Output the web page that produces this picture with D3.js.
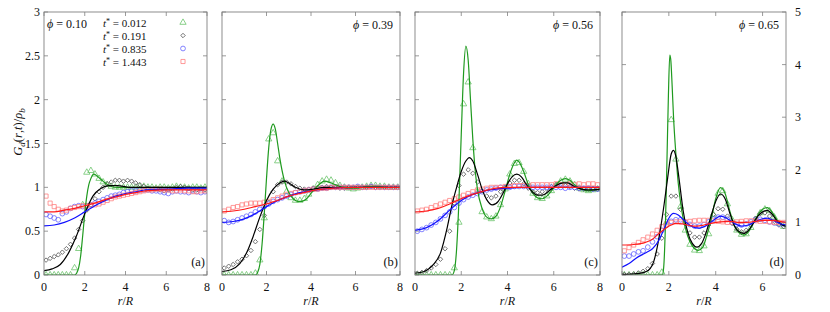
<!DOCTYPE html>
<html>
<head>
<meta charset="utf-8">
<script src="https://cdn.jsdelivr.net/npm/d3@7"></script>
<style>
  body { margin: 0; background: #fff; }
</style>
</head>
<body>
<svg id="chart" width="830" height="312"></svg>
<script>
// simulation sample radii (markers)
const rMarks = [0.1,0.3,0.5,0.7,0.9,1.1,1.3,1.5,1.7,1.9,2.1,2.3,2.5,2.7,2.9,3.1,3.3,3.5,3.7,3.9,
  4.1,4.3,4.5,4.7,4.9,5.1,5.3,5.5,5.7,5.9,6.1,6.3,6.5,6.7,6.9,7.1,7.3,7.5,7.7,7.9];
const rMarksD = [0.1,0.3,0.5,0.7,0.9,1.1,1.3,1.5,1.7,1.9,2.1,2.3,2.5,2.7,2.9,3.1,3.3,3.5,3.7,3.9,
  4.1,4.3,4.5,4.7,4.9,5.1,5.3,5.5,5.7,5.9,6.1,6.3,6.5,6.7,6.9];

const times = ["0.012", "0.191", "0.835", "1.443"];
const phis = ["0.10", "0.39", "0.56", "0.65"];
const tags = ["(a)", "(b)", "(c)", "(d)"];

// panel (a) phi = 0.10
const aTri = [0,0,0,0,0,0,0,0.08,0.3,0.8,1.17,1.19,1.15,1.1,1.06,1.03,1.01,1.0,1.0,1.0,1.0,1.0,1.0,1.01,1.01,1.0,1.0,0.99,1.0,1.0,0.99,1.0,1.01,1.0,1.0,0.99,1.0,1.0,0.99,1.0];
const aDia = [0.17,0.19,0.21,0.23,0.26,0.3,0.35,0.42,0.52,0.62,0.74,0.8,0.87,0.95,1.0,1.04,1.06,1.08,1.08,1.07,1.08,1.07,1.05,1.03,1.01,0.99,0.98,0.98,0.97,0.96,0.97,0.98,1.0,1.01,1.0,0.99,0.97,0.97,0.98,0.97];
const aCir = [0.69,0.67,0.65,0.63,0.7,0.72,0.76,0.78,0.79,0.78,0.79,0.8,0.82,0.84,0.86,0.88,0.9,0.91,0.92,0.94,0.95,0.96,0.96,0.97,0.97,0.97,0.96,0.96,0.95,0.94,0.93,0.95,0.96,0.95,0.95,0.94,0.96,0.95,0.94,0.95];
const aSqu = [0.9,0.82,0.78,0.75,0.73,0.74,0.76,0.77,0.78,0.79,0.79,0.8,0.8,0.81,0.83,0.85,0.87,0.89,0.9,0.91,0.92,0.93,0.94,0.95,0.96,0.97,0.97,0.98,0.98,0.97,0.97,0.96,0.96,0.97,0.96,0.96,0.95,0.95,0.96,0.96];
const aLineG = [[0,0],[1.5,0],[1.6,0.02],[1.7,0.08],[1.8,0.22],[1.9,0.45],[2.0,0.7],[2.1,0.9],[2.2,1.03],[2.3,1.1],[2.45,1.15],[2.6,1.13],[2.8,1.09],[3.0,1.05],[3.3,1.01],[3.6,1.0],[8,1.0]];
const aLineK = [[0,0.05],[0.4,0.07],[0.8,0.12],[1.2,0.25],[1.6,0.45],[2.0,0.7],[2.4,0.9],[2.8,0.99],[3.2,1.02],[3.6,1.02],[4.2,1.0],[8,1.0]];
const aLineB = [[0,0.56],[0.5,0.57],[1.0,0.6],[1.5,0.65],[2.0,0.72],[2.5,0.79],[3.0,0.85],[3.5,0.9],[4.0,0.93],[4.5,0.95],[5.0,0.97],[6,0.98],[7,0.99],[8,0.99]];
const aLineR = [[0,0.72],[0.5,0.72],[1.0,0.74],[1.5,0.76],[2.0,0.79],[2.5,0.82],[3.0,0.86],[3.5,0.89],[4.0,0.92],[4.5,0.94],[5,0.96],[6,0.97],[7,0.97],[8,0.97]];

// panel (b) phi = 0.39
const bTri = [0,0,0,0,0,0,0,0.02,0.17,0.65,1.55,1.62,1.3,1.07,0.95,0.88,0.85,0.85,0.87,0.92,0.98,1.03,1.07,1.09,1.08,1.05,1.02,1.0,0.99,0.98,0.99,1.0,1.01,1.02,1.02,1.01,1.01,1.0,1.0,1.0];
const bDia = [0.08,0.1,0.12,0.15,0.18,0.22,0.28,0.38,0.52,0.68,0.83,0.95,1.03,1.06,1.06,1.04,1.01,0.99,0.98,0.98,0.99,1.0,1.0,1.01,1.0,1.0,0.99,0.99,1.0,1.0,1.0,1.0,1.0,1.01,1.0,1.0,1.0,1.0,1.0,1.0];
const bCir = [0.62,0.6,0.61,0.63,0.65,0.67,0.69,0.72,0.75,0.78,0.81,0.84,0.86,0.88,0.9,0.92,0.94,0.95,0.96,0.97,0.98,0.98,0.99,0.99,1.0,1.0,1.0,1.0,1.0,1.0,1.01,1.0,1.0,1.01,1.0,1.0,1.0,1.0,1.0,1.0];
const bSqu = [0.73,0.75,0.77,0.78,0.8,0.81,0.82,0.82,0.82,0.83,0.84,0.86,0.88,0.9,0.92,0.93,0.94,0.95,0.96,0.97,0.98,0.98,0.99,0.99,1.0,1.0,1.0,1.0,1.0,1.0,1.0,1.0,1.0,1.0,1.0,1.0,1.0,1.0,1.0,1.0];
const bLineG = [[0,0],[1.5,0],[1.6,0.03],[1.7,0.12],[1.8,0.35],[1.9,0.7],[2.0,1.1],[2.1,1.45],[2.2,1.66],[2.3,1.72],[2.4,1.66],[2.5,1.5],[2.6,1.33],[2.8,1.08],[3.0,0.94],[3.2,0.87],[3.4,0.84],[3.6,0.84],[3.8,0.87],[4.0,0.93],[4.2,0.99],[4.4,1.04],[4.6,1.07],[4.8,1.06],[5.0,1.04],[5.3,1.01],[5.6,0.99],[6.0,0.99],[6.5,1.01],[7.0,1.01],[7.5,1.0],[8,1.0]];
const bLineK = [[0,0.04],[0.4,0.06],[0.8,0.13],[1.1,0.25],[1.4,0.44],[1.7,0.66],[2.0,0.85],[2.3,0.98],[2.6,1.05],[2.8,1.07],[3.0,1.05],[3.3,1.0],[3.7,0.97],[4.1,0.98],[4.6,1.0],[8,1.0]];
const bLineB = [[0,0.6],[0.5,0.61],[1.0,0.64],[1.5,0.7],[2.0,0.78],[2.5,0.85],[3.0,0.9],[3.5,0.94],[4.0,0.96],[4.5,0.98],[5.0,0.99],[6,1.0],[8,1.0]];
const bLineR = [[0,0.72],[0.5,0.73],[1.0,0.75],[1.5,0.78],[2.0,0.81],[2.5,0.85],[3.0,0.9],[3.5,0.93],[4.0,0.96],[4.5,0.98],[5,0.99],[6,1.0],[8,1.0]];

// panel (c) phi = 0.56
const cTri = [0,0,0,0,0,0,0,0,0.08,0.6,1.95,2.2,1.45,0.95,0.72,0.66,0.64,0.67,0.8,0.98,1.15,1.27,1.28,1.18,1.04,0.93,0.88,0.87,0.9,0.96,1.02,1.07,1.09,1.07,1.03,0.99,0.97,0.96,0.97,0.98];
const cDia = [0.02,0.03,0.05,0.08,0.12,0.18,0.3,0.5,0.82,1.02,1.15,1.2,1.16,1.06,0.96,0.9,0.88,0.9,0.95,1.0,1.05,1.08,1.08,1.04,0.99,0.95,0.94,0.95,0.98,1.01,1.03,1.03,1.02,1.01,0.99,0.98,0.98,0.98,0.98,0.98];
const cCir = [0.5,0.52,0.54,0.57,0.6,0.64,0.68,0.72,0.77,0.82,0.86,0.89,0.91,0.93,0.95,0.97,0.98,0.99,1.0,1.0,1.0,1.01,1.01,1.01,1.01,1.0,1.0,1.0,1.0,1.0,1.0,1.0,0.99,1.0,1.0,0.99,0.99,0.99,0.98,0.98];
const cSqu = [0.73,0.74,0.75,0.77,0.79,0.81,0.83,0.85,0.87,0.89,0.91,0.93,0.95,0.97,0.98,0.99,1.0,1.0,1.0,1.01,1.01,1.02,1.02,1.02,1.02,1.03,1.03,1.03,1.03,1.03,1.04,1.03,1.03,1.04,1.03,1.04,1.03,1.04,1.04,1.03];
const cLineG = [[0,0],[1.6,0],[1.7,0.05],[1.8,0.3],[1.9,0.85],[2.0,1.6],[2.1,2.3],[2.2,2.61],[2.3,2.45],[2.4,2.0],[2.5,1.55],[2.6,1.2],[2.7,0.98],[2.9,0.76],[3.1,0.66],[3.3,0.64],[3.5,0.67],[3.7,0.78],[3.9,0.96],[4.1,1.15],[4.3,1.28],[4.4,1.31],[4.5,1.29],[4.7,1.18],[4.9,1.03],[5.1,0.93],[5.3,0.88],[5.5,0.87],[5.7,0.9],[5.9,0.96],[6.1,1.03],[6.3,1.08],[6.5,1.1],[6.7,1.08],[6.9,1.03],[7.1,0.99],[7.3,0.97],[7.5,0.96],[7.7,0.97],[8,0.98]];
const cLineK = [[0,0.02],[0.4,0.04],[0.8,0.12],[1.1,0.25],[1.4,0.55],[1.6,0.8],[1.8,1.0],[2.0,1.18],[2.2,1.3],[2.35,1.34],[2.5,1.3],[2.7,1.15],[2.9,0.98],[3.1,0.86],[3.35,0.8],[3.6,0.84],[3.8,0.93],[4.0,1.04],[4.2,1.12],[4.4,1.15],[4.6,1.12],[4.8,1.04],[5.0,0.97],[5.3,0.91],[5.5,0.91],[5.8,0.96],[6.1,1.02],[6.4,1.05],[6.6,1.05],[6.9,1.01],[7.2,0.98],[7.6,0.97],[8,0.98]];
const cLineB = [[0,0.51],[0.5,0.54],[1.0,0.62],[1.5,0.74],[2.0,0.85],[2.5,0.92],[3.0,0.96],[3.5,0.98],[4,0.99],[4.5,1.0],[8,1.0]];
const cLineR = [[0,0.72],[0.5,0.73],[1.0,0.76],[1.5,0.81],[2.0,0.87],[2.5,0.92],[3.0,0.96],[3.5,0.99],[4,1.0],[8,1.0]];

// panel (d) phi = 0.65
const dTri = [0,0,0,0,0,0,0,0,0.05,1.0,2.95,2.2,1.3,0.85,0.58,0.47,0.46,0.55,0.78,1.15,1.55,1.6,1.35,1.05,0.85,0.77,0.78,0.9,1.05,1.18,1.25,1.22,1.1,0.98,0.92];
const dDia = [0.01,0.01,0.02,0.04,0.07,0.12,0.22,0.4,0.7,1.15,1.5,1.5,1.25,0.98,0.8,0.72,0.72,0.8,0.95,1.15,1.26,1.25,1.12,0.98,0.87,0.82,0.85,0.95,1.08,1.17,1.18,1.12,1.02,0.95,0.92];
const dCir = [0.36,0.36,0.4,0.44,0.46,0.53,0.63,0.73,0.85,0.95,1.02,1.05,1.05,1.0,0.96,0.93,0.93,0.96,1.01,1.06,1.1,1.1,1.06,1.0,0.96,0.95,0.97,1.01,1.05,1.06,1.04,1.01,0.99,0.97,0.97];
const dSqu = [0.46,0.52,0.57,0.62,0.67,0.72,0.78,0.85,0.92,0.97,1.0,1.01,1.01,1.01,1.02,1.03,1.04,1.04,1.04,1.03,1.02,1.01,1.0,1.0,1.01,1.02,1.03,1.03,1.03,1.02,1.02,1.01,1.0,1.0,1.0];
const dLineG = [[0,0],[1.72,0],[1.78,0.15],[1.85,0.9],[1.92,2.2],[1.98,3.4],[2.04,4.18],[2.08,4.1],[2.14,3.6],[2.2,3.0],[2.3,2.3],[2.4,1.75],[2.5,1.38],[2.6,1.1],[2.7,0.9],[2.9,0.63],[3.1,0.5],[3.25,0.47],[3.45,0.53],[3.6,0.72],[3.8,1.05],[4.0,1.45],[4.2,1.66],[4.4,1.55],[4.6,1.22],[4.8,0.93],[5.0,0.8],[5.2,0.76],[5.4,0.82],[5.6,0.98],[5.8,1.14],[6.0,1.25],[6.2,1.28],[6.4,1.2],[6.6,1.06],[6.8,0.97],[7.0,0.92]];
const dLineK = [[0,0.01],[0.5,0.02],[1.0,0.06],[1.2,0.12],[1.35,0.25],[1.5,0.52],[1.65,0.9],[1.8,1.35],[1.95,1.85],[2.1,2.3],[2.2,2.37],[2.3,2.25],[2.4,1.95],[2.5,1.6],[2.6,1.25],[2.8,0.82],[3.0,0.6],[3.2,0.53],[3.4,0.6],[3.6,0.82],[3.8,1.12],[4.0,1.4],[4.2,1.54],[4.4,1.45],[4.6,1.18],[4.8,0.93],[5.0,0.82],[5.2,0.79],[5.4,0.85],[5.6,0.98],[5.8,1.12],[6.0,1.2],[6.2,1.23],[6.4,1.16],[6.6,1.04],[6.8,0.96],[7.0,0.93]];
const dLineB = [[0,0.15],[0.3,0.22],[0.6,0.32],[1.0,0.42],[1.3,0.5],[1.6,0.68],[1.8,0.88],[2.0,1.08],[2.2,1.17],[2.4,1.14],[2.6,1.06],[2.8,0.98],[3.0,0.92],[3.3,0.89],[3.6,0.94],[3.9,1.04],[4.2,1.12],[4.5,1.07],[4.8,0.98],[5.1,0.93],[5.4,0.95],[5.7,1.02],[6.0,1.07],[6.2,1.08],[6.5,1.03],[6.8,0.97],[7.0,0.95]];
const dLineR = [[0,0.57],[0.5,0.58],[1.0,0.62],[1.3,0.68],[1.6,0.8],[1.9,0.9],[2.1,0.95],[2.3,0.98],[2.6,0.97],[2.9,0.94],[3.2,0.93],[3.5,0.95],[3.8,0.98],[4.2,1.01],[4.6,1.02],[5.0,1.0],[5.3,1.0],[5.7,1.02],[6.1,1.04],[6.4,1.04],[6.7,1.02],[7.0,1.0]];

const lineColors = ["#1f9a1f", "#000000", "#1010ff", "#ff1a1a"];
const markColors = ["#6cc46c", "#5a5a5a", "#6464ff", "#ff8080"];
const markShapes = ["tri", "dia", "cir", "squ"];

const panels = [
  { x0: 44,  x1: 207, xMax: 8, yMax: 3, yStep: 0.5, r: rMarks,  marks: [aTri, aDia, aCir, aSqu], lines: [aLineG, aLineK, aLineB, aLineR] },
  { x0: 222, x1: 400, xMax: 8, yMax: 3, yStep: 0.5, r: rMarks,  marks: [bTri, bDia, bCir, bSqu], lines: [bLineG, bLineK, bLineB, bLineR] },
  { x0: 415, x1: 600, xMax: 8, yMax: 3, yStep: 0.5, r: rMarks,  marks: [cTri, cDia, cCir, cSqu], lines: [cLineG, cLineK, cLineB, cLineR] },
  { x0: 622, x1: 786, xMax: 7, yMax: 5, yStep: 1,   r: rMarksD, marks: [dTri, dDia, dCir, dSqu], lines: [dLineG, dLineK, dLineB, dLineR] }
];

const plotTop = 12, plotBottom = 275;
const serif = "'Liberation Serif', 'Noto Serif', 'Liberation Sans', Arial, sans-serif";
const svg = d3.select("#chart").attr("font-family", serif).style("font-family", serif);
const frameColor = "#808080";

function symbolPath(shape) {
  if (shape === "tri") return d3.symbol(d3.symbolTriangle, 17)();
  if (shape === "dia") return d3.symbol(d3.symbolSquare, 10)();
  if (shape === "cir") return d3.symbol(d3.symbolCircle, 18)();
  return d3.symbol(d3.symbolSquare, 17)();
}
function drawMark(g, shape, x, y, color) {
  g.append("path")
    .attr("d", symbolPath(shape))
    .attr("transform", `translate(${x},${y})` + (shape === "dia" ? " rotate(45)" : ""))
    .attr("fill", "none")
    .attr("stroke", color)
    .attr("stroke-width", 0.8);
}
function label(g) {
  return g.append("text").attr("font-family", serif).attr("fill", "#111");
}

panels.forEach((p, i) => {
  const x = d3.scaleLinear().domain([0, p.xMax]).range([p.x0, p.x1]);
  const y = d3.scaleLinear().domain([0, p.yMax]).range([plotBottom, plotTop]);
  const g = svg.append("g");

  const clipId = "clip" + i;
  svg.append("clipPath").attr("id", clipId)
    .append("rect").attr("x", p.x0).attr("y", plotTop).attr("width", p.x1 - p.x0).attr("height", plotBottom - plotTop);

  // ticks (inward, mirrored)
  const xt = d3.range(0, p.xMax + 0.01, 2);
  const yt = d3.range(0, p.yMax + 0.001, p.yStep);
  const tk = g.append("g").attr("stroke", frameColor).attr("stroke-width", 0.8);
  xt.forEach(v => {
    tk.append("line").attr("x1", x(v)).attr("x2", x(v)).attr("y1", plotBottom).attr("y2", plotBottom - 4);
    tk.append("line").attr("x1", x(v)).attr("x2", x(v)).attr("y1", plotTop).attr("y2", plotTop + 4);
  });
  yt.forEach(v => {
    tk.append("line").attr("x1", p.x0).attr("x2", p.x0 + 4).attr("y1", y(v)).attr("y2", y(v));
    tk.append("line").attr("x1", p.x1).attr("x2", p.x1 - 4).attr("y1", y(v)).attr("y2", y(v));
  });

  // x tick labels
  xt.forEach(v => {
    label(g).attr("x", x(v)).attr("y", 291).attr("text-anchor", "middle")
      .attr("font-size", 12).text(v);
  });
  // y tick labels: left on first, right on last
  if (i === 0) {
    yt.forEach(v => {
      label(g).attr("x", p.x0 - 4).attr("y", y(v) + 4).attr("text-anchor", "end")
        .attr("font-size", 12).text(v);
    });
  }
  if (i === 3) {
    yt.forEach(v => {
      label(g).attr("x", p.x1 + 9).attr("y", y(v) + 4).attr("text-anchor", "start")
        .attr("font-size", 12).text(v);
    });
  }

  // data
  const plot = g.append("g").attr("clip-path", `url(#${clipId})`);
  p.marks.forEach((vals, s) => {
    vals.forEach((v, k) => drawMark(plot, markShapes[s], x(p.r[k]), y(v), markColors[s]));
  });
  const line = d3.line().x(d => x(d[0])).y(d => y(d[1])).curve(d3.curveMonotoneX);
  p.lines.forEach((pts, s) => {
    plot.append("path").attr("d", line(pts)).attr("fill", "none")
      .attr("stroke", lineColors[s]).attr("stroke-width", 1.2);
  });

  // frame
  g.append("rect").attr("x", p.x0).attr("y", plotTop).attr("width", p.x1 - p.x0).attr("height", plotBottom - plotTop)
    .attr("fill", "none").attr("stroke", frameColor).attr("stroke-width", 0.9);

  // panel tag
  label(g).attr("x", p.x1 - 2).attr("y", 266).attr("text-anchor", "end")
    .attr("font-size", 12.5).text(tags[i]);

  // phi label
  const phiText = label(g).attr("font-size", 12);
  if (i === 0) {
    phiText.attr("x", 47).attr("y", 28);
  } else {
    phiText.attr("x", p.x1 - 7).attr("y", 29).attr("text-anchor", "end");
  }
  phiText.append("tspan").attr("font-style", "italic").text("\u03d5");
  phiText.append("tspan").text(" = " + phis[i]);

  // x axis title
  const xl = label(g).attr("x", (p.x0 + p.x1) / 2).attr("y", 305).attr("text-anchor", "middle")
    .attr("font-size", 12);
  xl.append("tspan").attr("font-style", "italic").text("r");
  xl.append("tspan").text("/");
  xl.append("tspan").attr("font-style", "italic").text("R");
});

// legend inside panel (a)
const legendY = [22.5, 35.5, 48.5, 61.5];
times.forEach((t, s) => {
  const tx = label(svg).attr("x", 103).attr("y", legendY[s] + 4).attr("font-size", 11);
  tx.append("tspan").attr("font-style", "italic").text("t");
  tx.append("tspan").attr("font-size", 8).attr("dy", -3).text("*");
  tx.append("tspan").attr("dy", 3).text(" = " + t);
  drawMark(svg, markShapes[s], 183, legendY[s], markColors[s]);
});

// y axis title
const yl = label(svg).attr("transform", "translate(22,132) rotate(-90)")
  .attr("text-anchor", "middle").attr("font-size", 12.5);
yl.append("tspan").attr("font-style", "italic").text("G");
yl.append("tspan").attr("font-style", "italic").attr("font-size", 9).attr("dy", 3).text("d");
yl.append("tspan").attr("dy", -3).text("(");
yl.append("tspan").attr("font-style", "italic").text("r");
yl.append("tspan").text(",");
yl.append("tspan").attr("font-style", "italic").text("t");
yl.append("tspan").text(")/");
yl.append("tspan").attr("font-style", "italic").text("\u03c1");
yl.append("tspan").attr("font-style", "italic").attr("font-size", 9).attr("dy", 3).text("b");
</script>
</body>
</html>
